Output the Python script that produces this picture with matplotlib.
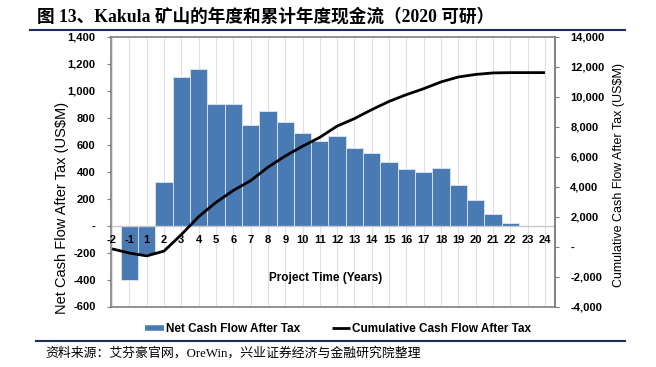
import matplotlib
matplotlib.use('Agg')
import matplotlib.pyplot as plt
from matplotlib.lines import Line2D
import matplotlib.transforms as mtransforms
import numpy as np

# ---- data ----
years = ['-2', '-1', '1', '2', '3', '4', '5', '6', '7', '8', '9', '10', '11',
         '12', '13', '14', '15', '16', '17', '18', '19', '20', '21', '22', '23', '24']
net_cf = [0, -400, -210, 325, 1100, 1160, 900, 905, 750, 850, 770, 690, 630,
          665, 575, 540, 470, 420, 395, 430, 300, 190, 90, 20, 0, 0]
cum_cf = [-150, -430, -620, -300, 800, 2000, 2950, 3750, 4400, 5300, 6050, 6700, 7300,
          8050, 8550, 9150, 9700, 10150, 10550, 11000, 11330, 11500, 11600, 11620, 11620, 11620]
left_ticks = [-600, -400, -200, 0, 200, 400, 600, 800, 1000, 1200, 1400]
left_labels = ['-600', '-400', '-200', '-', '200', '400', '600', '800', '1,000', '1,200', '1,400']
right_ticks = [-4000, -2000, 0, 2000, 4000, 6000, 8000, 10000, 12000, 14000]
right_labels = ['-4,000', '-2,000', '-', '2,000', '4,000', '6,000', '8,000', '10,000', '12,000', '14,000']

title = '图 13、Kakula 矿山的年度和累计年度现金流（2020 可研）'
source = '资料来源：艾芬豪官网，OreWin，兴业证券经济与金融研究院整理'
left_title = 'Net Cash Flow After Tax (US$M)'
right_title = 'Cumulative Cash Flow After Tax (US$M)'
x_title = 'Project Time (Years)'
legend_labels = ['Net Cash Flow After Tax', 'Cumulative Cash Flow After Tax']

BAR = '#4A7AB3'
SPINE = '#7F7F7F'

plt.rcParams['font.family'] = ['Liberation Sans', 'Noto Sans CJK SC']

W, H = 656, 367
fig = plt.figure(figsize=(W / 100, H / 100), dpi=100)

L, R, T, B = 111, 555, 37, 306.5
ax = fig.add_axes([L / W, 1 - B / H, (R - L) / W, (B - T) / H])

x = np.arange(len(years))
ax.bar(x, net_cf, width=1.0, color=BAR, edgecolor='#D6E0EE', linewidth=0.7, zorder=2)
ax.axhline(0, color='#C8C8C8', lw=1.0, zorder=2.5)
ax.set_xlim(-0.06, 25.58)
ax.set_ylim(-600, 1400)
ax.set_xticks(x)
ax.tick_params(axis='x', length=0, labelbottom=False)
ax.grid(axis='x', color='#E0E0E0', lw=0.8, zorder=0)
ax.set_axisbelow(True)
ax.set_yticks(left_ticks)
ax.set_yticklabels(left_labels, fontweight='bold', fontsize=8)
ax.tick_params(axis='y', direction='out', length=3, color=SPINE, pad=8)
for s in ax.spines.values():
    s.set_color(SPINE)
    s.set_linewidth(1.2)

# category labels along the zero line
off = mtransforms.offset_copy(ax.transData, fig=fig, x=0, y=-14, units='dots')
for xi, lab in zip(x, years):
    ax.text(xi, 0, lab, transform=off, ha='center', va='center',
            fontsize=8, fontweight='bold', zorder=5)

ax2 = ax.twinx()
ax2.plot(x, cum_cf, color='black', lw=2, zorder=3, solid_capstyle='butt')
ax2.set_ylim(-4000, 14000)
ax2.set_yticks(right_ticks)
ax2.set_yticklabels(right_labels, fontweight='bold', fontsize=8)
ax2.tick_params(axis='y', direction='out', length=3, color=SPINE, pad=8)
for k, s in ax2.spines.items():
    if k == 'right':
        s.set_color(SPINE)
        s.set_linewidth(1.2)
    else:
        s.set_visible(False)

# axis titles
fig.text(62 / W, 1 - 207.5 / H, left_title, rotation=90, ha='center', va='center', fontsize=10.5)
fig.text(619 / W, 1 - 175 / H, right_title, rotation=90, ha='center', va='center', fontsize=9)
fig.text(325.5 / W, 1 - 278 / H, x_title, ha='center', va='center', fontsize=8.5, fontweight='bold')

# legend
handles = [Line2D([], [], color=BAR, lw=4, solid_capstyle='butt'),
           Line2D([], [], color='black', lw=2, solid_capstyle='butt')]
fig.legend(handles, legend_labels, loc='center', bbox_to_anchor=(338 / W, 1 - 329 / H),
           ncol=2, frameon=False, prop={'weight': 'bold', 'size': 8.5},
           handlelength=1.55, handletextpad=0.15, columnspacing=2.7)

# header / footer
fig.text(37 / W, 1 - 17 / H, title, ha='left', va='center', fontsize=12.7, fontweight='bold',
         family=['Liberation Serif', 'Noto Sans CJK SC'])
fig.add_artist(Line2D([30 / W, 625 / W], [1 - 30 / H] * 2, transform=fig.transFigure,
                      color='#1F2D5C', lw=1.5))
fig.add_artist(Line2D([36 / W, 625 / W], [1 - 341 / H] * 2, transform=fig.transFigure,
                      color='#1F2D5C', lw=1.5))
fig.text(45 / W, 1 - 353 / H, source, ha='left', va='center', fontsize=9.3,
         family=['Liberation Serif', 'Noto Sans CJK SC'])

fig.savefig('out.png', dpi=100)
